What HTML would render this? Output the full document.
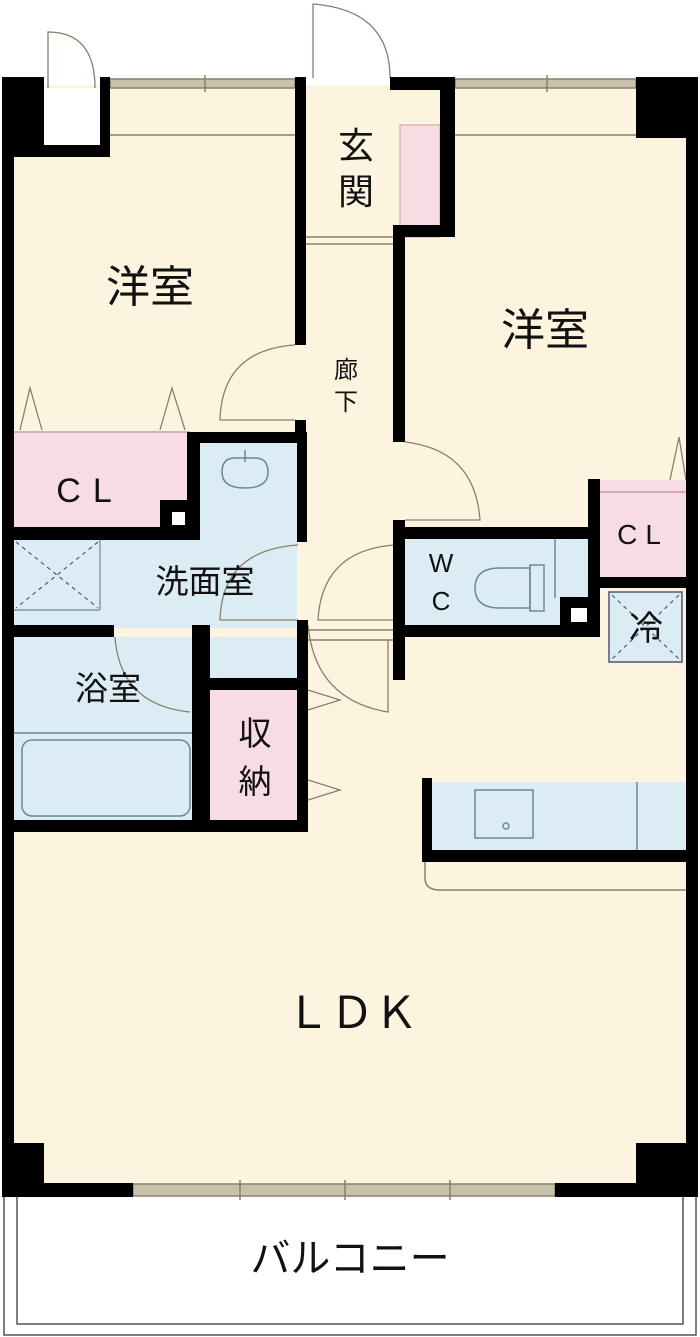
<!DOCTYPE html>
<html><head><meta charset="utf-8"><style>
html,body{margin:0;padding:0;background:#fff;}
svg{display:block;}
text{font-family:"Liberation Sans","Noto Sans CJK JP",sans-serif;fill:#111;}
</style></head><body>
<svg width="700" height="1337" viewBox="0 0 700 1337" xmlns="http://www.w3.org/2000/svg">
<!-- floor -->
<rect x="10" y="85" width="680" height="1105" fill="#fdf4df"/>
<!-- top-left white box area -->
<rect x="44" y="88" width="56" height="57" fill="#fff"/>
<!-- balcony -->
<rect x="4" y="1195" width="692" height="140" fill="none" stroke="#555" stroke-width="1.5"/>
<rect x="17" y="1195" width="666" height="129" fill="none" stroke="#555" stroke-width="1.5"/>

<!-- pink areas -->
<rect x="400" y="125" width="40" height="112" fill="#f8dce4" stroke="#c9a" stroke-width="1"/>
<rect x="14" y="432" width="176" height="96" fill="#f8dce4"/>
<rect x="600" y="480" width="86" height="97" fill="#f8dce4"/>
<rect x="210" y="690" width="92" height="132" fill="#f8dce4"/>
<!-- blue areas -->
<rect x="200" y="442" width="97" height="60" fill="#dcecf5"/>
<rect x="14" y="538" width="283" height="90" fill="#dcecf5"/>
<rect x="200" y="500" width="97" height="45" fill="#dcecf5"/>
<rect x="14" y="637" width="180" height="185" fill="#dcecf5"/>
<rect x="210" y="637" width="90" height="48" fill="#dcecf5"/>
<rect x="405" y="539" width="183" height="86" fill="#dcecf5"/>
<rect x="609" y="592" width="73" height="70" fill="#dcecf5" stroke="#556" stroke-width="1.5"/>
<rect x="432" y="782" width="254" height="68" fill="#dcecf5"/>

<!-- fixtures -->
<g fill="none" stroke="#6a8a90" stroke-width="1.5">
<path d="M235 458 Q222 458 222 472 Q222 488 245 488 Q268 488 268 472 Q268 458 255 458 Z"/>
<line x1="245" y1="450" x2="245" y2="462"/>
<rect x="22" y="740" width="168" height="76" rx="10"/>
<line x1="14" y1="733" x2="194" y2="733"/>
<path d="M530 568 L500 568 Q475 568 475 588 Q475 608 500 608 L530 608 Z"/>
<rect x="530" y="565" width="14" height="46"/>
<line x1="555" y1="539" x2="555" y2="598"/>
<rect x="475" y="790" width="58" height="48"/>
<circle cx="506" cy="826" r="3"/>
<line x1="637" y1="782" x2="637" y2="850"/>
</g>
<g stroke="#558" stroke-width="1.2" stroke-dasharray="4 4" fill="none">
<line x1="16" y1="542" x2="98" y2="608"/><line x1="98" y1="542" x2="16" y2="608"/>
<line x1="612" y1="595" x2="679" y2="659"/><line x1="679" y1="595" x2="612" y2="659"/>
</g>
<line x1="100" y1="540" x2="100" y2="610" stroke="#6a8a90" stroke-width="1.2"/>
<line x1="14" y1="610" x2="100" y2="610" stroke="#6a8a90" stroke-width="1.2"/>

<!-- thin floor/window lines -->
<g stroke="#8a7f6a" stroke-width="1.5" fill="none">
<rect x="110" y="79" width="185" height="9" fill="#c8c2ad"/>
<rect x="455" y="79" width="181" height="9" fill="#c8c2ad"/>
<line x1="110" y1="135" x2="295" y2="135"/>
<line x1="455" y1="135" x2="636" y2="135"/>
<line x1="306" y1="237" x2="395" y2="237"/>
<line x1="306" y1="244" x2="395" y2="244"/>
<rect x="133" y="1184" width="422" height="12" fill="#c8c2ad"/>
<line x1="240" y1="1180" x2="240" y2="1200"/><line x1="345" y1="1180" x2="345" y2="1200"/><line x1="450" y1="1180" x2="450" y2="1200"/>
<line x1="205" y1="75" x2="205" y2="92"/><line x1="547" y1="75" x2="547" y2="92"/>
<line x1="14" y1="432" x2="190" y2="432" stroke="#c9a"/>
<line x1="600" y1="492" x2="686" y2="492" stroke="#c9a"/>
<line x1="425" y1="862" x2="425" y2="878"/>
<path d="M425 878 Q425 890 440 890 L686 890"/>
<line x1="306" y1="630" x2="395" y2="630"/>
<line x1="306" y1="640" x2="395" y2="640"/>
</g>

<!-- doors -->
<g stroke="#8a7f6a" stroke-width="1.3" fill="none">
<path d="M48 88 L48 32 Q95 32 95 88"/>
<path d="M313 78 L313 4 Q390 10 390 78"/>
<path d="M295 345 Q222 350 220 420 L295 420"/>
<path d="M405 442 Q475 450 480 520 L405 520"/>
<path d="M395 545 Q322 550 318 620 L395 620"/>
<path d="M308 625 Q315 700 388 712 L388 640"/>
<path d="M298 545 Q222 550 220 620 L298 620"/>
<path d="M115 637 Q120 705 190 712"/>
<path d="M20 430 L30 388 L42 430 M160 430 L172 388 L185 430"/>
<path d="M670 480 L679 437 L686 480"/>
<path d="M308 690 L340 700 L308 710 M308 780 L340 790 L308 800"/>
</g>

<!-- walls -->
<g fill="#000">
<rect x="2" y="77" width="12" height="1120"/>
<rect x="686" y="77" width="12" height="1120"/>
<rect x="2" y="77" width="42" height="80"/>
<rect x="100" y="77" width="10" height="80"/>
<rect x="2" y="145" width="108" height="12"/>
<rect x="636" y="77" width="62" height="61"/>
<rect x="295" y="77" width="11" height="268"/>
<rect x="295" y="420" width="11" height="22"/>
<rect x="390" y="77" width="65" height="13"/>
<rect x="440" y="77" width="15" height="160"/>
<rect x="393" y="225" width="62" height="12"/>
<rect x="393" y="225" width="12" height="217"/>
<rect x="393" y="520" width="12" height="160"/>
<rect x="393" y="527" width="207" height="12"/>
<rect x="393" y="625" width="207" height="12"/>
<rect x="588" y="479" width="12" height="158"/>
<rect x="600" y="577" width="86" height="11"/>
<rect x="560" y="597" width="40" height="30"/>
<rect x="190" y="432" width="117" height="11"/>
<rect x="187" y="432" width="13" height="98"/>
<rect x="160" y="500" width="40" height="30"/>
<rect x="14" y="527" width="186" height="13"/>
<rect x="297" y="432" width="10" height="110"/>
<rect x="297" y="620" width="11" height="212"/>
<rect x="14" y="625" width="100" height="12"/>
<rect x="192" y="625" width="18" height="12"/>
<rect x="192" y="625" width="18" height="207"/>
<rect x="210" y="678" width="98" height="12"/>
<rect x="14" y="820" width="294" height="12"/>
<rect x="422" y="778" width="10" height="84"/>
<rect x="422" y="850" width="264" height="12"/>
<rect x="2" y="1143" width="42" height="54"/>
<rect x="2" y="1183" width="131" height="14"/>
<rect x="636" y="1143" width="62" height="54"/>
<rect x="555" y="1183" width="143" height="14"/>
</g>
<rect x="172" y="512" width="13" height="13" fill="#fff"/>
<rect x="571" y="608" width="16" height="14" fill="#fff"/>

<!-- labels -->
<text x="150" y="302" font-size="44" text-anchor="middle">洋室</text>
<text x="545" y="345" font-size="44" text-anchor="middle">洋室</text>
<text x="356" y="158" font-size="36" text-anchor="middle">玄</text>
<text x="356" y="204" font-size="36" text-anchor="middle">関</text>
<text x="346" y="378" font-size="24" text-anchor="middle">廊</text>
<text x="346" y="410" font-size="24" text-anchor="middle">下</text>
<text x="90" y="502" font-size="34" text-anchor="middle" letter-spacing="12">CL</text>
<text x="643" y="544" font-size="28" text-anchor="middle" letter-spacing="8">CL</text>
<text x="205" y="593" font-size="33" text-anchor="middle">洗面室</text>
<text x="108" y="700" font-size="33" text-anchor="middle">浴室</text>
<text x="255" y="745" font-size="33" text-anchor="middle">収</text>
<text x="255" y="793" font-size="33" text-anchor="middle">納</text>
<text x="441" y="572" font-size="26" text-anchor="middle">W</text>
<text x="441" y="610" font-size="26" text-anchor="middle">C</text>
<text x="646" y="640" font-size="34" text-anchor="middle">冷</text>
<text x="352" y="1028" font-size="44" text-anchor="middle">ＬＤＫ</text>
<text x="350" y="1272" font-size="40" text-anchor="middle">バルコニー</text>
</svg>
</body></html>
